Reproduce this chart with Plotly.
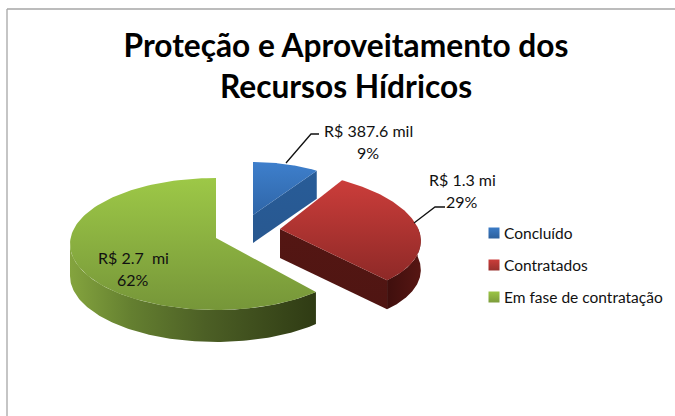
import numpy as np
import plotly.graph_objects as go

# ---- data ----
categories = ["Concluído", "Contratados", "Em fase de contratação"]
percents = [9, 29, 62]
amount_labels = ["R$ 387.6 mil", "R$ 1.3 mi", "R$ 2.7  mi"]
title_lines = ["Proteção e Aproveitamento dos", "Recursos Hídricos"]

# ---- drawing geometry (canvas pixels), one entry per slice ----
geom = [
    dict(cx=253, cy=218, ax=253, ay=215, a=119, b=56, s=0, d=28),
    dict(cx=280, cy=234, ax=280, ay=229, a=140, b=63.6, s=15.4, d=29),
    dict(cx=216, cy=244, ax=216, ay=238, a=146, b=66, s=0, d=32),
]
top_colors = [("#3E7FCC", "#2F66A8"), ("#CB3D3A", "#8E2927"), ("#9DC847", "#769639")]
wall_colors = [("#285C98", "#285890"), ("#541613", "#4F1512")]
green_wall_scale = [[0, "#84A43E"], [0.25, "#647F30"], [0.55, "#4C5F25"], [1, "#2F3B14"]]
legend_colors = [("#3B7BC6", "#2C5F9C"), ("#CB3D3A", "#98302D"), ("#9BC545", "#7C9C3B")]
legend_y = [233, 265, 297]
label_pos = [(368, 130), (462, 179), (133, 257)]
leaders = [
    ([286, 311, 319], [163, 134, 134]),
    ([414, 435, 445], [223, 207, 207]),
]
FONT = "Lato"


def arc(g, t0, t1, n=120, dy=0):
    t = np.radians(np.linspace(t0, t1, n))
    x = g["cx"] + g["a"] * np.cos(t) - g["s"] * np.sin(t)
    y = g["cy"] - g["b"] * np.sin(t) + dy
    return x, y


def grad(kind, c0, c1):
    return dict(type=kind, colorscale=[[0, c0], [1, c1]])


fig = go.Figure()


def poly(x, y, gradient, name):
    fig.add_trace(go.Scatter(
        x=list(x), y=list(y), mode="lines", fill="toself",
        line=dict(width=0), fillgradient=gradient,
        name=name, showlegend=False, hoverinfo="name"))


angles = []
start = 90.0
for p in percents:
    angles.append((start, start - p * 3.6))
    start -= p * 3.6

# the angle sweep of each slice comes from its percentage
for i in [2, 1, 0]:
    g, (t0, t1) = geom[i], angles[i]
    name = categories[i]
    d = g["d"]
    ax_, ay_ = g["ax"], g["ay"]
    ex, ey = arc(g, t1, t1, 1)
    if i == 2:
        # outer wall, from the end of the cut round to the far left
        wx, wy = arc(g, t0, -180)
        poly(np.r_[wx, wx[::-1]], np.r_[wy, wy[::-1] + d],
             dict(type="horizontal", colorscale=green_wall_scale), name)
    else:
        # cut face from the apex to the end of the arc
        poly([ax_, ex[0], ex[0], ax_], [ay_, ey[0], ey[0] + d, ay_ + d],
             grad("vertical", wall_colors[i][1], wall_colors[i][0]), name)
        if i == 1:
            wx, wy = arc(g, t1, 6)
            poly(np.r_[wx, wx[::-1]], np.r_[wy, wy[::-1] + d],
                 grad("horizontal", "#3F0F0D", "#571613"), name)
    # top surface
    x, y = arc(g, t0, t1)
    poly(np.r_[ax_, x, ax_], np.r_[ay_, y, ay_],
         grad("vertical", top_colors[i][1], top_colors[i][0]), name)

# leader lines
for lx, ly in leaders:
    fig.add_trace(go.Scatter(x=lx, y=ly, mode="lines", line=dict(color="#111111", width=1.3),
                             showlegend=False, hoverinfo="skip"))

# slice labels
for lab, pct, (px, py) in zip(amount_labels, percents, label_pos):
    fig.add_annotation(x=px, y=py, text=f"{lab}", showarrow=False,
                       font=dict(family=FONT, size=16, color="#111111"))
    fig.add_annotation(x=px, y=py + 22, text=f"{pct}%", showarrow=False,
                       font=dict(family=FONT, size=16, color="#111111"))

# legend rows
for name, (c0, c1), ly in zip(categories, legend_colors, legend_y):
    fig.add_trace(go.Scatter(
        x=[494], y=[ly], mode="markers", name=name, showlegend=False,
        marker=dict(symbol="square", size=11, color=c0,
                    gradient=dict(type="vertical", color=c1), line=dict(width=0))))
    fig.add_annotation(x=502, y=ly, text=name, showarrow=False, xanchor="left",
                       font=dict(family=FONT, size=15.5, color="#111111"))

fig.update_layout(
    width=675, height=416, margin=dict(l=0, r=0, t=0, b=0),
    paper_bgcolor="white", plot_bgcolor="white", showlegend=False,
    title=dict(text="<br>".join(title_lines), x=346 / 675, xanchor="center",
               y=0.864, yanchor="top",
               font=dict(family=FONT, size=31.7, color="#000000", weight="bold")),
    xaxis=dict(range=[0, 675], visible=False, fixedrange=True),
    yaxis=dict(range=[416, 0], visible=False, fixedrange=True),
    shapes=[
        dict(type="line", x0=7, x1=7, y0=9, y1=416, line=dict(color="#A6A6A6", width=1.3)),
        dict(type="line", x0=7, x1=675, y0=9, y1=9, line=dict(color="#A6A6A6", width=1.3)),
    ],
)
fig.write_html("out.html", config=dict(displayModeBar=False),
               post_script="document.body.style.margin='0';")
